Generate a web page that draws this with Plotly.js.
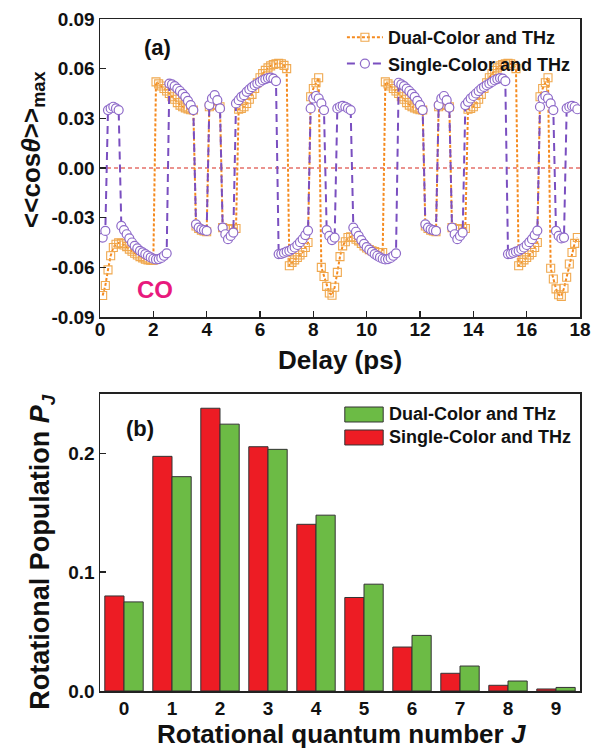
<!DOCTYPE html>
<html>
<head>
<meta charset="utf-8">
<script src="https://cdn.plot.ly/plotly-3.0.1.min.js"></script>
<style>html,body{margin:0;padding:0;background:#fff;}#chart{width:600px;height:748px;}</style>
</head>
<body>
<div id="chart"></div>
<script>
// ---- Panel (a): delay (ps) ----
const delay = [
 0.1,0.2,0.3,0.4,0.5,0.6,0.7,0.8,0.9,1.0,
 1.1,1.2,1.3,1.4,1.5,1.6,1.7,1.8,1.9,2.0,
 2.1,2.2,2.3,2.4,2.5,2.6,2.7,2.8,2.9,3.0,
 3.1,3.2,3.3,3.4,3.5,3.6,3.7,3.8,3.9,4.0,
 4.1,4.2,4.3,4.4,4.5,4.6,4.7,4.8,4.9,5.0,
 5.1,5.2,5.3,5.4,5.5,5.6,5.7,5.8,5.9,6.0,
 6.1,6.2,6.3,6.4,6.5,6.6,6.7,6.8,6.9,7.0,
 7.1,7.2,7.3,7.4,7.5,7.6,7.7,7.8,7.9,8.0,
 8.1,8.2,8.3,8.4,8.5,8.6,8.7,8.8,8.9,9.0,
 9.1,9.2,9.3,9.4,9.5,9.6,9.7,9.8,9.9,10.0,
 10.1,10.2,10.3,10.4,10.5,10.6,10.7,10.8,10.9,11.0,
 11.1,11.2,11.3,11.4,11.5,11.6,11.7,11.8,11.9,12.0,
 12.1,12.2,12.3,12.4,12.5,12.6,12.7,12.8,12.9,13.0,
 13.1,13.2,13.3,13.4,13.5,13.6,13.7,13.8,13.9,14.0,
 14.1,14.2,14.3,14.4,14.5,14.6,14.7,14.8,14.9,15.0,
 15.1,15.2,15.3,15.4,15.5,15.6,15.7,15.8,15.9,16.0,
 16.1,16.2,16.3,16.4,16.5,16.6,16.7,16.8,16.9,17.0,
 17.1,17.2,17.3,17.4,17.5,17.6,17.7,17.8,17.9
];
// Dual-Color and THz
const dualCos = [
 -0.077,-0.071,-0.0615,-0.053,-0.048,-0.046,-0.0452,-0.0455,-0.0465,-0.0475,
 -0.049,-0.0503,-0.0515,-0.0525,-0.0535,-0.0543,-0.055,-0.0555,-0.0557,-0.0557,
 0.052,0.0508,0.0495,0.048,0.0465,0.045,0.043,0.0415,0.0395,0.038,
 0.037,0.0363,0.0357,0.0352,0.035,-0.035,-0.0365,-0.0375,-0.038,-0.0385,
 0.037,0.038,0.0385,0.038,0.037,-0.036,-0.0365,-0.037,-0.037,-0.0365,
 -0.0365,0.0355,0.036,0.037,0.039,0.0415,0.0445,0.048,0.0515,0.0545,
 0.057,0.059,0.0605,0.0617,0.0625,0.063,0.0632,0.063,0.062,0.060,
 -0.059,-0.057,-0.0555,-0.054,-0.0525,-0.051,-0.048,-0.045,0.043,0.048,
 0.0515,0.0545,-0.060,-0.0655,-0.0715,-0.0755,-0.0768,-0.072,-0.063,-0.0535,
 -0.047,-0.0445,-0.042,-0.0415,-0.042,-0.043,-0.044,-0.0455,-0.047,-0.0483,
 -0.0493,-0.050,-0.0505,-0.051,-0.051,-0.051,0.052,0.0508,0.0495,0.048,
 0.0465,0.045,0.043,0.0415,0.0395,0.038,0.037,0.0363,0.0357,0.0352,
 0.035,-0.035,-0.0365,-0.0375,-0.038,-0.0385,0.037,0.038,0.0385,0.038,
 0.037,-0.036,-0.0365,-0.037,-0.037,-0.0365,-0.0365,0.0355,0.036,0.037,
 0.039,0.0415,0.0445,0.048,0.0515,0.0545,0.057,0.059,0.0605,0.0617,
 0.0625,0.063,0.0632,0.063,0.062,0.060,-0.059,-0.057,-0.0555,-0.054,
 -0.0525,-0.051,-0.048,-0.045,0.043,0.048,0.0515,0.0545,-0.0605,-0.067,
 -0.073,-0.0765,-0.0775,-0.0726,-0.066,-0.058,-0.051,-0.0455,-0.042
];
// Single-Color and THz
const singleCos = [
 -0.042,-0.038,0.035,0.036,0.037,0.036,0.035,-0.035,-0.0375,-0.040,
 -0.0425,-0.045,-0.047,-0.0485,-0.050,-0.051,-0.052,-0.053,-0.054,-0.0548,
 -0.0552,-0.055,-0.0543,-0.053,-0.0515,0.051,0.0505,0.0495,0.048,0.0465,
 0.0448,0.043,0.0405,0.038,0.035,-0.034,-0.036,-0.037,-0.0375,-0.038,
 0.038,0.042,0.044,0.041,0.036,-0.036,-0.040,-0.043,-0.041,-0.039,
 0.039,0.041,0.043,0.044,0.046,0.0475,0.0488,0.050,0.051,0.052,
 0.053,0.0537,0.0543,0.0546,0.054,0.0525,-0.052,-0.0518,-0.0512,-0.0505,
 -0.050,-0.049,-0.048,-0.0465,-0.0448,-0.043,-0.0405,-0.0378,0.036,0.042,
 0.0435,0.042,0.039,0.035,-0.0375,-0.041,-0.0435,-0.042,0.036,0.037,
 0.0375,0.037,0.036,0.035,-0.036,-0.0385,-0.041,-0.0435,-0.0458,-0.0478,
 -0.0493,-0.0507,-0.052,-0.053,-0.054,-0.0548,-0.0552,-0.055,-0.0543,-0.053,
 -0.0515,0.0515,0.0505,0.0495,0.048,0.0465,0.0448,0.043,0.0405,0.038,
 0.035,-0.034,-0.036,-0.037,-0.0375,-0.038,0.038,0.042,0.0435,0.041,
 0.0365,-0.036,-0.040,-0.043,-0.041,-0.039,0.038,0.040,0.042,0.0435,
 0.045,0.0465,0.048,0.049,0.050,0.051,0.052,0.053,0.0537,0.0543,
 0.054,0.0525,-0.052,-0.0518,-0.0512,-0.0505,-0.050,-0.049,-0.048,-0.0465,
 -0.0448,-0.043,-0.0405,-0.0378,0.037,0.042,0.0435,0.042,0.039,0.035,
 -0.038,-0.041,-0.0425,-0.042,0.036,0.037,0.0375,0.037,0.0355
];
const delayTicks = [0,2,4,6,8,10,12,14,16,18];
const cosTicks = [-0.09,-0.06,-0.03,0.00,0.03,0.06,0.09];

// ---- Panel (b): rotational populations ----
const J = [0,1,2,3,4,5,6,7,8,9];
const popSingle = [0.080,0.1975,0.238,0.2056,0.1403,0.0787,0.037,0.0149,0.0048,0.0017];
const popDual   = [0.075,0.1804,0.2246,0.2034,0.148,0.0899,0.0468,0.021,0.0084,0.003];
const popTicks = [0.0,0.1,0.2];

const seriesNames = ["Dual-Color and THz","Single-Color and THz"];

const FONT = "Liberation Sans, Arial, Helvetica, sans-serif";
const tickFont = {family: FONT, size: 19, color: "#111", weight: "bold"};

const traces = [
  {
    x: delay, y: dualCos, name: seriesNames[0], type: "scatter", mode: "lines+markers",
    xaxis: "x", yaxis: "y", legend: "legend",
    line: {color: "#f58a1f", width: 2, dash: "3px,2px"},
    marker: {symbol: "square-open", size: 8, color: "#f0a84e", line: {width: 1.1, color: "#f0a84e"}}
  },
  {
    x: delay, y: singleCos, name: seriesNames[1], type: "scatter", mode: "lines+markers",
    xaxis: "x", yaxis: "y", legend: "legend",
    line: {color: "#7a4fc0", width: 2, dash: "8px,5px"},
    marker: {symbol: "circle", size: 9, color: "#ffffff", line: {width: 1.2, color: "#8e6ac9"}}
  },
  {
    x: J, y: popSingle, name: seriesNames[1], type: "bar", xaxis: "x2", yaxis: "y2",
    showlegend: false,
    marker: {color: "#ed1c24", line: {color: "#333", width: 1}}
  },
  {
    x: J, y: popDual, name: seriesNames[0], type: "bar", xaxis: "x2", yaxis: "y2",
    showlegend: false,
    marker: {color: "#6cbb45", line: {color: "#333", width: 1}}
  }
];

const axisCommon = {
  showline: true, mirror: true, linecolor: "#222", linewidth: 1.5,
  ticks: "inside", ticklen: 6, tickwidth: 1.5, tickcolor: "#222",
  showgrid: false, zeroline: false, tickfont: tickFont
};

const layout = {
  width: 600, height: 748,
  margin: {l: 100, r: 20, t: 19, b: 57},
  paper_bgcolor: "#fff", plot_bgcolor: "#fff",
  font: {family: FONT, color: "#111"},
  barmode: "group", bargap: 0.2, bargroupgap: 0,
  xaxis: Object.assign({}, axisCommon, {domain: [0, 1], anchor: "y", range: [0, 18], tickvals: delayTicks, ticktext: delayTicks.map(String), ticklabelstandoff: -5}),
  yaxis: Object.assign({}, axisCommon, {domain: [0.5565, 1], anchor: "x", range: [-0.09, 0.09], tickvals: cosTicks, ticktext: cosTicks.map(v => v.toFixed(2))}),
  xaxis2: Object.assign({}, axisCommon, {domain: [0, 1], anchor: "y2", range: [-0.5, 9.5], tickvals: J, ticktext: J.map(String), ticks: ""}),
  yaxis2: Object.assign({}, axisCommon, {domain: [0, 0.442], anchor: "x2", range: [0, 0.25], tickvals: popTicks, ticktext: popTicks.map(v => v.toFixed(1))}),
  legend: {
    x: 0.504, y: 1.0, xanchor: "left", yanchor: "top",
    bgcolor: "rgba(0,0,0,0)", borderwidth: 0,
    font: {family: FONT, size: 18, color: "#111", weight: "bold"},
    itemwidth: 36, tracegroupgap: 0
  },
  shapes: [
    {type: "line", xref: "x", yref: "y", x0: 0, x1: 18, y0: 0, y1: 0,
     line: {color: "#d8281e", width: 1.2, dash: "4px,3px"}, layer: "below"},
    {type: "rect", xref: "paper", yref: "paper", x0: 0.510, x1: 0.590, y0: 0.4003, y1: 0.4226,
     fillcolor: "#6cbb45", line: {color: "#333", width: 1}},
    {type: "rect", xref: "paper", yref: "paper", x0: 0.510, x1: 0.590, y0: 0.3661, y1: 0.3884,
     fillcolor: "#ed1c24", line: {color: "#333", width: 1}}
  ],
  annotations: [
    {text: "<b>&lt;&lt;cos<i>θ</i>&gt;&gt;<sub>max</sub></b>", xref: "paper", yref: "paper",
     x: -0.142, y: 0.805, textangle: -90, showarrow: false, xanchor: "center", yanchor: "middle",
     font: {family: FONT, size: 26, color: "#111"}},
    {text: "<b>Delay (ps)</b>", xref: "paper", yref: "paper", x: 0.5, y: 0.492,
     showarrow: false, xanchor: "center", yanchor: "middle", font: {family: FONT, size: 26, color: "#111"}},
    {text: "<b>Rotational quantum number <i>J</i></b>", xref: "paper", yref: "paper", x: 0.504, y: -0.064,
     showarrow: false, xanchor: "center", yanchor: "middle", font: {family: FONT, size: 26, color: "#111"}},
    {text: "<b>Rotational Population <i>P</i><sub><i>J</i></sub></b>", xref: "paper", yref: "paper",
     x: -0.121, y: 0.207, textangle: -90, showarrow: false, xanchor: "center", yanchor: "middle",
     font: {family: FONT, size: 27, color: "#111"}},
    {text: "<b>(a)</b>", xref: "paper", yref: "paper", x: 0.119, y: 0.957, showarrow: false,
     xanchor: "center", yanchor: "middle", font: {family: FONT, size: 22, color: "#111"}},
    {text: "<b>CO</b>", xref: "paper", yref: "paper", x: 0.115, y: 0.598, showarrow: false,
     xanchor: "center", yanchor: "middle", font: {family: FONT, size: 24, color: "#e8197d"}},
    {text: "<b>(b)</b>", xref: "paper", yref: "paper", x: 0.083, y: 0.391, showarrow: false,
     xanchor: "center", yanchor: "middle", font: {family: FONT, size: 22, color: "#111"}},
    {text: "<b>" + seriesNames[0] + "</b>", xref: "paper", yref: "paper", x: 0.598, y: 0.4122, showarrow: false,
     xanchor: "left", yanchor: "middle", font: {family: FONT, size: 18, color: "#111"}},
    {text: "<b>" + seriesNames[1] + "</b>", xref: "paper", yref: "paper", x: 0.598, y: 0.378, showarrow: false,
     xanchor: "left", yanchor: "middle", font: {family: FONT, size: 18, color: "#111"}}
  ]
};

Plotly.newPlot("chart", traces, layout, {staticPlot: true, displayModeBar: false});
</script>
</body>
</html>
